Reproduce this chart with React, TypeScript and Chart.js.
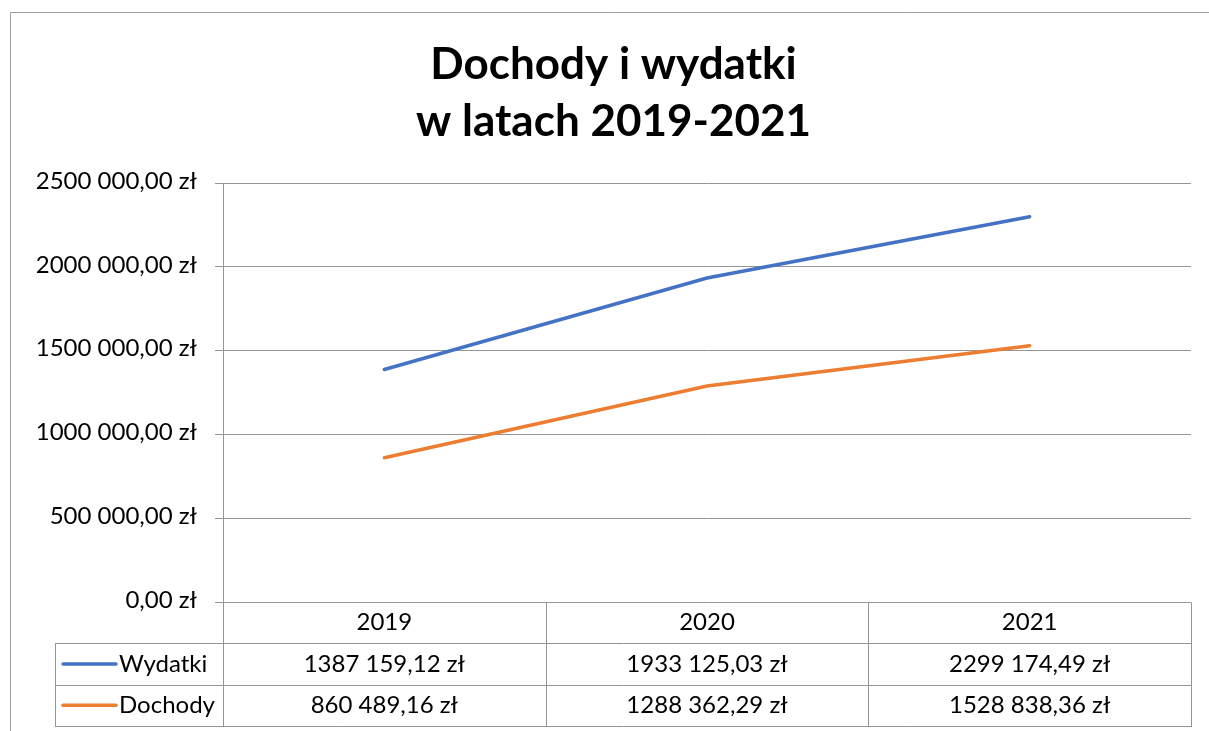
import React, { useEffect, useRef } from "react";
import { Chart, registerables } from "chart.js";

Chart.register(...registerables);

const categories = ["2019", "2020", "2021"];
const seriesNames = ["Wydatki", "Dochody"];
const wydatki = [1387159.12, 1933125.03, 2299174.49];
const dochody = [860489.16, 1288362.29, 1528838.36];
const titleLines = ["Dochody i wydatki", "w latach 2019-2021"];
const yMin = 0;
const yMax = 2500000;
const yStep = 500000;

const BLUE = "#4472C4";
const ORANGE = "#ED7D31";
const GRID = "#959595";
const FONT = "Lato, 'Open Sans', sans-serif";
const ROW_H = 41.3;
const LEGEND_LEFT = 55;

function formatPLN(v: number): string {
  const [intStr, dec] = v.toFixed(2).split(".");
  const head = intStr.length > 3 ? intStr.slice(0, -3) + " " + intStr.slice(-3) : intStr;
  return `${head},${dec} zł`;
}

const px = (v: number) => Math.round(v) + 0.5;

const tablePlugin = {
  id: "dataTable",
  beforeDraw(chart: any) {
    const ctx = chart.ctx;
    ctx.save();
    ctx.strokeStyle = "#a0a0a0";
    ctx.lineWidth = 1;
    ctx.beginPath();
    ctx.moveTo(10.5, chart.height);
    ctx.lineTo(10.5, 12.5);
    ctx.lineTo(chart.width, 12.5);
    ctx.stroke();
    ctx.restore();
  },
  afterDraw(chart: any) {
    const ctx = chart.ctx;
    const { left, right, bottom } = chart.chartArea;
    const n = categories.length;
    const colW = (right - left) / n;
    const r1 = bottom + ROW_H;
    const r2 = r1 + ROW_H;
    const r3 = r2 + ROW_H;
    ctx.save();
    ctx.strokeStyle = GRID;
    ctx.lineWidth = 1;
    ctx.beginPath();
    [r1, r2, r3].forEach((y) => {
      ctx.moveTo(LEGEND_LEFT, px(y));
      ctx.lineTo(right + 1, px(y));
    });
    ctx.moveTo(px(LEGEND_LEFT), px(r1));
    ctx.lineTo(px(LEGEND_LEFT), px(r3));
    for (let i = 0; i <= n; i++) {
      const x = px(left + i * colW);
      ctx.moveTo(x, px(bottom));
      ctx.lineTo(x, px(r3));
    }
    ctx.stroke();

    const rows = [
      { name: seriesNames[0], color: BLUE, data: wydatki, top: r1 },
      { name: seriesNames[1], color: ORANGE, data: dochody, top: r2 },
    ];
    ctx.font = `24px ${FONT}`;
    ctx.fillStyle = "#000";
    ctx.textBaseline = "middle";
    rows.forEach((row) => {
      const cy = row.top + ROW_H / 2;
      ctx.strokeStyle = row.color;
      ctx.lineWidth = 3.5;
      ctx.lineCap = "round";
      ctx.beginPath();
      ctx.moveTo(LEGEND_LEFT + 8, cy);
      ctx.lineTo(LEGEND_LEFT + 61, cy);
      ctx.stroke();
      ctx.textAlign = "left";
      ctx.fillText(row.name, LEGEND_LEFT + 64, cy);
      ctx.textAlign = "center";
      row.data.forEach((v, i) => {
        ctx.fillText(formatPLN(v), left + (i + 0.5) * colW, cy);
      });
    });
    ctx.restore();
  },
};

export default function App() {
  const ref = useRef<HTMLCanvasElement | null>(null);
  useEffect(() => {
    if (!ref.current) return;
    Chart.defaults.font.family = FONT;
    const chart = new Chart(ref.current, {
      type: "line",
      data: {
        labels: categories,
        datasets: [
          {
            label: seriesNames[0],
            data: wydatki,
            borderColor: BLUE,
            backgroundColor: BLUE,
            borderWidth: 3.5,
            pointRadius: 0,
            borderCapStyle: "round",
            tension: 0,
          },
          {
            label: seriesNames[1],
            data: dochody,
            borderColor: ORANGE,
            backgroundColor: ORANGE,
            borderWidth: 3.5,
            pointRadius: 0,
            borderCapStyle: "round",
            tension: 0,
          },
        ],
      },
      options: {
        responsive: false,
        animation: false,
        layout: { padding: { top: 0, left: 36, right: 18, bottom: 5 } },
        plugins: {
          legend: { display: false },
          tooltip: { enabled: false },
          title: {
            display: true,
            text: titleLines,
            color: "#000",
            font: { family: FONT, size: 44, weight: "bold", lineHeight: 1.3 },
            padding: { top: 36, bottom: 32.6 },
          },
        },
        scales: {
          x: {
            offset: true,
            grid: { display: false, drawTicks: false },
            border: { display: false },
            ticks: { color: "#000", font: { family: FONT, size: 24 }, padding: 6, maxRotation: 0 },
            afterFit: (s: any) => {
              s.height = 124;
            },
          },
          y: {
            min: yMin,
            max: yMax,
            grid: { color: GRID, tickLength: 8, drawTicks: true },
            border: { display: true, color: GRID },
            ticks: {
              stepSize: yStep,
              color: "#000",
              font: { family: FONT, size: 24 },
              padding: 18,
              labelOffset: -2,
              callback: (v: any) => formatPLN(Number(v)),
            },
            afterFit: (s: any) => {
              s.width = 187;
            },
          },
        },
      },
      plugins: [tablePlugin],
    });
    return () => chart.destroy();
  }, []);
  return (
    <div style={{ position: "absolute", left: 0, top: 0, width: 1209, height: 731, background: "#fff" }}>
      <canvas ref={ref} width={1209} height={731} />
    </div>
  );
}
